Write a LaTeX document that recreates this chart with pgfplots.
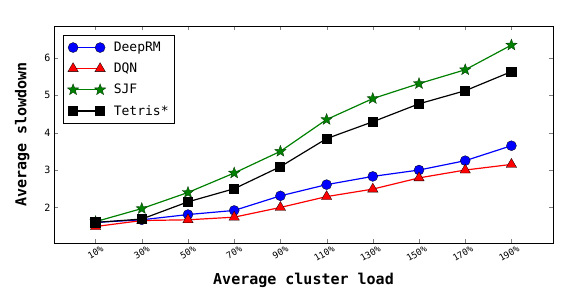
\documentclass[border=0pt]{standalone}
\usepackage{pgfplots}
\pgfplotsset{compat=1.18}
\usepackage{fontspec}
\setmainfont{DejaVu Sans Mono}
\definecolor{mgreen}{rgb}{0,0.5,0}
\pgfdeclareplotmark{fstar}{%
  \pgfpathmoveto{\pgfpointpolar{90}{\pgfplotmarksize}}%
  \pgfpathlineto{\pgfpointpolar{126}{0.42\pgfplotmarksize}}%
  \pgfpathlineto{\pgfpointpolar{162}{\pgfplotmarksize}}%
  \pgfpathlineto{\pgfpointpolar{198}{0.42\pgfplotmarksize}}%
  \pgfpathlineto{\pgfpointpolar{234}{\pgfplotmarksize}}%
  \pgfpathlineto{\pgfpointpolar{270}{0.42\pgfplotmarksize}}%
  \pgfpathlineto{\pgfpointpolar{306}{\pgfplotmarksize}}%
  \pgfpathlineto{\pgfpointpolar{342}{0.42\pgfplotmarksize}}%
  \pgfpathlineto{\pgfpointpolar{18}{\pgfplotmarksize}}%
  \pgfpathlineto{\pgfpointpolar{54}{0.42\pgfplotmarksize}}%
  \pgfpathclose\pgfusepathqfillstroke}
\begin{document}
\begin{tikzpicture}
\begin{axis}[
  scale only axis, width=499pt, height=217pt,
  xmin=-0.9, xmax=9.9, ymin=1.05, ymax=6.85,
  xtick={0,...,9},
  xticklabels={10\%,30\%,50\%,70\%,90\%,110\%,130\%,150\%,170\%,190\%},
  ytick={2,3,4,5,6},
  tick align=inside, tick pos=both,
  major tick length=4pt,
  x tick label style={rotate=30, anchor=north east, font=\fontsize{9}{10}\selectfont, xshift=7pt, yshift=-1pt},
  y tick label style={font=\fontsize{10}{11}\selectfont},
  /pgf/number format/assume math mode=true,
  xlabel={\bfseries Average cluster load},
  ylabel={\bfseries Average slowdown},
  xlabel style={font=\fontsize{15}{16}\selectfont, yshift=-3pt},
  ylabel style={font=\fontsize{15}{16}\selectfont, yshift=8pt},
  axis line style={line width=0.8pt},
  legend style={font=\fontsize{13}{15}\selectfont, draw=black, line width=0.8pt, at={(0.018,0.96)}, anchor=north west, inner xsep=4pt, inner ysep=5pt, row sep=6pt, column sep=6pt},
  legend cell align=left,
  legend image code/.code={\draw[#1] (0cm,0cm) -- (0.95cm,0cm) plot coordinates {(0cm,0cm) (0.95cm,0cm)};},
  every axis plot/.append style={line width=1.2pt},
]
\addplot[blue, mark=*, mark size=5pt, mark options={fill=blue, draw=black, line width=0.3pt}] coordinates {
(0,1.60) (1,1.67) (2,1.81) (3,1.92) (4,2.31) (5,2.61) (6,2.83) (7,3.00) (8,3.25) (9,3.65)};
\addlegendentry{DeepRM}
\addplot[red, mark=triangle*, mark size=6pt, mark options={fill=red, draw=black, line width=0.3pt}] coordinates {
(0,1.49) (1,1.65) (2,1.67) (3,1.74) (4,2.00) (5,2.29) (6,2.49) (7,2.79) (8,3.00) (9,3.15)};
\addlegendentry{DQN}
\addplot[mgreen, mark=fstar, mark size=6pt, mark options={draw=black!60!mgreen, fill=mgreen, line width=0.3pt}] coordinates {
(0,1.62) (1,1.97) (2,2.40) (3,2.92) (4,3.50) (5,4.35) (6,4.91) (7,5.31) (8,5.68) (9,6.34)};
\addlegendentry{SJF}
\addplot[black, mark=square*, mark size=4.5pt, mark options={fill=black, draw=black}] coordinates {
(0,1.60) (1,1.69) (2,2.15) (3,2.50) (4,3.09) (5,3.84) (6,4.29) (7,4.77) (8,5.12) (9,5.63)};
\addlegendentry{Tetris*}
\end{axis}
\path (current axis.south west) ++(-54pt,-65pt) coordinate (bl);
\path (current axis.north east) ++(18pt,26pt) coordinate (tr);
\useasboundingbox (bl) rectangle (tr);
\end{tikzpicture}
\end{document}
